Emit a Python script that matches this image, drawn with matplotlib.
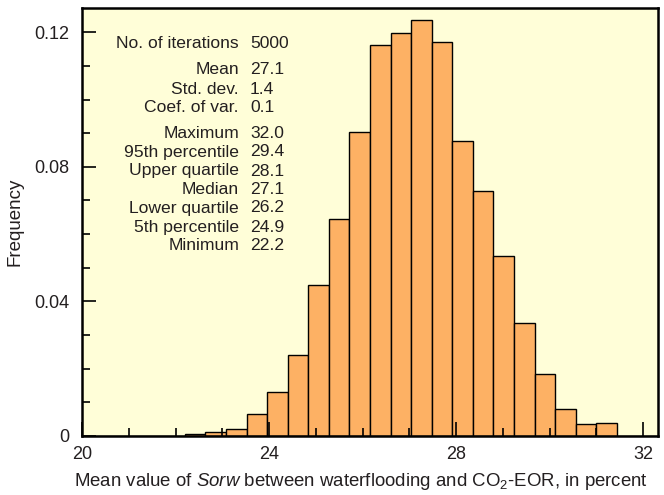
import numpy as np
import matplotlib
matplotlib.use("Agg")
import matplotlib.pyplot as plt
from matplotlib.ticker import MultipleLocator

plt.rcParams['font.family'] = ['Liberation Sans', 'DejaVu Sans']
plt.rcParams['mathtext.fontset'] = 'custom'
plt.rcParams['mathtext.rm'] = 'Liberation Sans'
plt.rcParams['mathtext.it'] = 'Liberation Sans:italic'

# histogram: bins of 0.44 starting at 20
bin_start = 20.0
bin_width = 0.44
freq = [0, 0, 0, 0, 0,
        0.0005, 0.0011, 0.0020, 0.0066, 0.0130, 0.0241, 0.0450, 0.0644,
        0.0903, 0.1163, 0.1198, 0.1235, 0.1170, 0.0877, 0.0727, 0.0535,
        0.0335, 0.0184, 0.0079, 0.0035, 0.0038, 0, 0]

stat_labels = ["No. of iterations", "Mean", "Std. dev.", "Coef. of var.",
               "Maximum", "95th percentile", "Upper quartile", "Median",
               "Lower quartile", "5th percentile", "Minimum"]
stat_values = ["5000", "27.1", "1.4", "0.1", "32.0", "29.4", "28.1",
               "27.1", "26.2", "24.9", "22.2"]

txt = '#231f20'
fig = plt.figure(figsize=(6.64, 4.95), dpi=100)
ax = fig.add_axes([0.1235, 0.1192, 0.8675, 0.8646])
ax.set_facecolor('#fffed8')

edges = bin_start + bin_width*np.arange(len(freq))
ax.bar(edges, freq, width=bin_width, align='edge', color='#fdb164',
       edgecolor='black', linewidth=1.0, zorder=2)

ax.set_xlim(20, bin_start + bin_width*len(freq))
ax.set_ylim(0, 0.1272)
ax.xaxis.set_major_locator(MultipleLocator(4))
ax.xaxis.set_minor_locator(MultipleLocator(1))
ax.yaxis.set_minor_locator(MultipleLocator(0.01))
ax.set_yticks([0, 0.04, 0.08, 0.12])
ax.set_yticklabels(['0', '0.04', '0.08', '0.12'])

ax.tick_params(which='major', direction='in', length=10, width=1.2,
               labelsize=13, colors='black', labelcolor=txt)
ax.tick_params(which='minor', direction='in', length=5.5, width=1.2)
ax.tick_params(axis='y', which='major', pad=9)
ax.tick_params(axis='x', which='major', pad=7)
for s in ax.spines.values():
    s.set_linewidth(1.8)
    s.set_zorder(5)
ax.set_axisbelow(False)

ax.set_ylabel('Frequency', fontsize=13.5, color=txt, labelpad=8)
ax.set_xlabel('Mean value of $\\mathit{Sorw}$ between waterflooding and CO$_2$-EOR, in percent',
              fontsize=13.4, color=txt, va='center')
ax.xaxis.set_label_coords(361/664, 1 - 481/495, transform=fig.transFigure)

rows_y = [44, 70, 89, 108, 133, 152, 171, 189, 208, 227, 246]
for lab, val, yp in zip(stat_labels, stat_values, rows_y):
    yf = 1 - yp/495
    fig.text(239/664, yf, lab, ha='right', va='center', fontsize=12.6, color=txt)
    fig.text(250/664, yf, val, ha='left', va='center', fontsize=12.6, color=txt)

fig.savefig('out.png', dpi=100)
